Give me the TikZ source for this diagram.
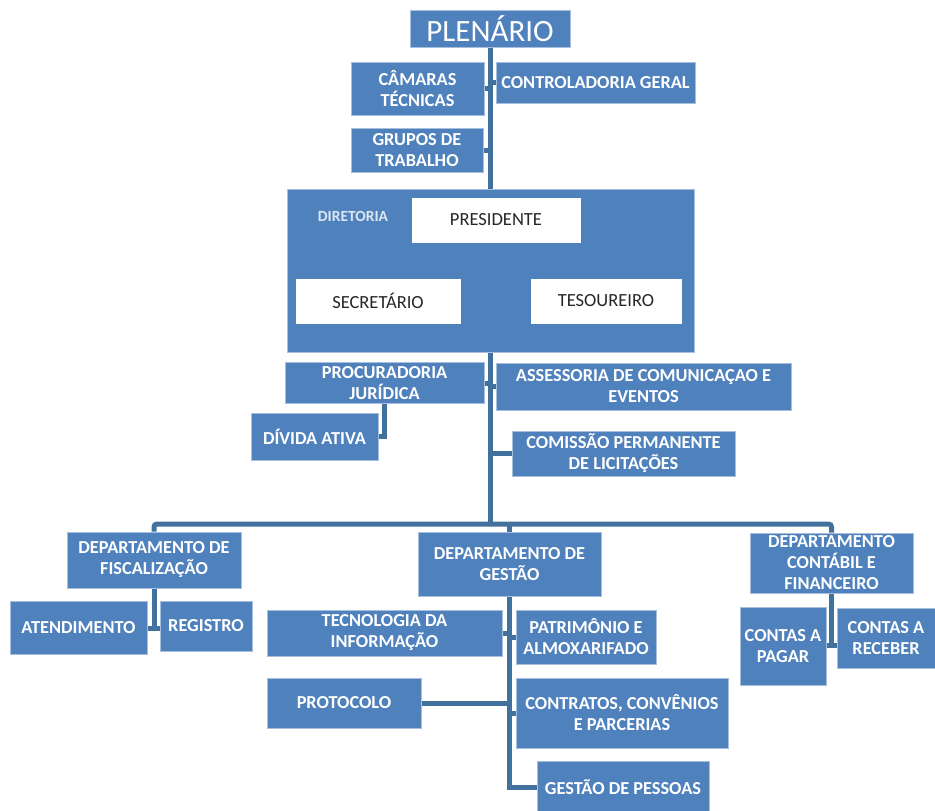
\documentclass[tikz,border=0pt]{standalone}
\usepackage{fontspec}
\setmainfont{Carlito}
\usetikzlibrary{backgrounds}
\definecolor{boxblue}{HTML}{4F81BD}
\definecolor{boxedge}{HTML}{A7BFDE}
\definecolor{linkblue}{HTML}{41719C}
\definecolor{labelblue}{HTML}{DCE6F2}
\definecolor{darktext}{HTML}{262626}
\begin{document}
\begin{tikzpicture}[x=1pt,y=-1pt,
  box/.style={rectangle, fill=boxblue, draw=boxedge, line width=0.8pt, text=white, align=center,
    inner sep=0pt, font=\bfseries\fontsize{18.3}{21}\selectfont},
  whitebox/.style={rectangle, fill=white, draw=boxblue, line width=0.8pt, text=darktext, align=center,
    inner sep=0pt, font=\fontsize{18.5}{21}\selectfont},
  link/.style={draw=linkblue, line width=5pt}]
\useasboundingbox (0,0) rectangle (935,811);

\node[box, minimum width=160pt, minimum height=37pt, font=\fontsize{31}{34}\selectfont] (plen) at (490,28.5) {PLENÁRIO};
\node[box, minimum width=133pt, minimum height=53pt] (cam) at (417.5,88.5) {CÂMARAS\\TÉCNICAS};
\node[box, minimum width=199pt, minimum height=41pt] (ctrl) at (595.5,82.5) {CONTROLADORIA GERAL};
\node[box, minimum width=132pt, minimum height=44pt] (grp) at (417,150) {GRUPOS DE\\TRABALHO};

\node[box, minimum width=407pt, minimum height=163pt] (dir) at (490.5,270.5) {};
\node[text=labelblue, font=\bfseries\fontsize{15.5}{17}\selectfont, inner sep=0pt] (dirlab) at (353,216) {DIRETORIA};
\node[whitebox, minimum width=170pt, minimum height=46pt] (pres) at (496,220) {PRESIDENTE};
\node[whitebox, minimum width=166pt, minimum height=46pt] (sec) at (378,301) {SECRETÁRIO};
\node[whitebox, minimum width=152pt, minimum height=46pt] (tes) at (606,301) {TESOUREIRO};

\node[box, minimum width=199pt, minimum height=41pt] (proc) at (384.5,383) {PROCURADORIA\\JURÍDICA};
\node[box, minimum width=295pt, minimum height=47pt] (asse) at (643.5,386.5) {ASSESSORIA DE COMUNICAÇAO E\\EVENTOS};
\node[box, minimum width=127pt, minimum height=47pt] (div) at (314.5,436.5) {DÍVIDA ATIVA};
\node[box, minimum width=223pt, minimum height=45pt] (com) at (623.5,453.5) {COMISSÃO PERMANENTE\\DE LICITAÇÕES};

\node[box, minimum width=174pt, minimum height=56pt] (fisc) at (154,560) {DEPARTAMENTO DE\\FISCALIZAÇÃO};
\node[box, minimum width=137pt, minimum height=53pt] (aten) at (78.5,627.5) {ATENDIMENTO};
\node[box, minimum width=92pt, minimum height=50pt] (reg) at (206,626) {REGISTRO};

\node[box, minimum width=183pt, minimum height=64pt] (gest) at (509.5,564) {DEPARTAMENTO DE\\GESTÃO};
\node[box, minimum width=235pt, minimum height=46pt] (ti) at (384.5,633) {TECNOLOGIA DA\\INFORMAÇÃO};
\node[box, minimum width=140pt, minimum height=54pt] (pat) at (586,637) {PATRIMÔNIO E\\ALMOXARIFADO};
\node[box, minimum width=154pt, minimum height=50pt] (prot) at (344,703) {PROTOCOLO};
\node[box, minimum width=212pt, minimum height=70pt] (cont) at (622,713) {CONTRATOS, CONVÊNIOS\\E PARCERIAS};
\node[box, minimum width=172pt, minimum height=52pt] (pes) at (623,787) {GESTÃO DE PESSOAS};

\node[box, minimum width=163pt, minimum height=60pt] (cfin) at (831.5,563) {DEPARTAMENTO\\CONTÁBIL E\\FINANCEIRO};
\node[box, minimum width=86pt, minimum height=78pt] (pag) at (783,646) {CONTAS A\\PAGAR};
\node[box, minimum width=98pt, minimum height=60pt] (rec) at (886,638) {CONTAS A\\RECEBER};

\begin{scope}[on background layer]
  \coordinate (bus) at (490,524);
  \draw[link] (plen.south) -- (bus);
  \draw[link, rounded corners=3pt] (fisc.north) |- (bus) -| (cfin.north);
  \draw[link] (gest.north) -- (gest.north |- bus);
  \draw[link] (cam.east) -- (cam.east -| plen.south);
  \draw[link] (ctrl.west) -- (ctrl.west -| plen.south);
  \draw[link] (grp.east) -- (grp.east -| plen.south);
  \draw[link] (proc.east) -- (proc.east -| plen.south);
  \draw[link] (asse.west) -- (asse.west -| plen.south);
  \draw[link] (com.west) -- (com.west -| plen.south);
  \draw[link] (div.east) -| (proc.south);
  \path (fisc.south) ++(0,40) coordinate (fj);
  \draw[link] (fisc.south) -- (fj);
  \draw[link] (aten.east |- fj) -- (reg.west |- fj);
  \draw[link] (gest.south) |- (pes.west);
  \draw[link] (ti.east) -- (ti.east -| gest.south);
  \draw[link] (pat.west) -- (pat.west -| gest.south);
  \draw[link] (prot.east) -- (prot.east -| gest.south);
  \draw[link] (cont.west) -- (cont.west -| gest.south);
  \path (cfin.south) ++(0,52) coordinate (cj);
  \draw[link] (cfin.south) -- (cj);
  \draw[link] (pag.east |- cj) -- (rec.west |- cj);
\end{scope}
\end{tikzpicture}
\end{document}
